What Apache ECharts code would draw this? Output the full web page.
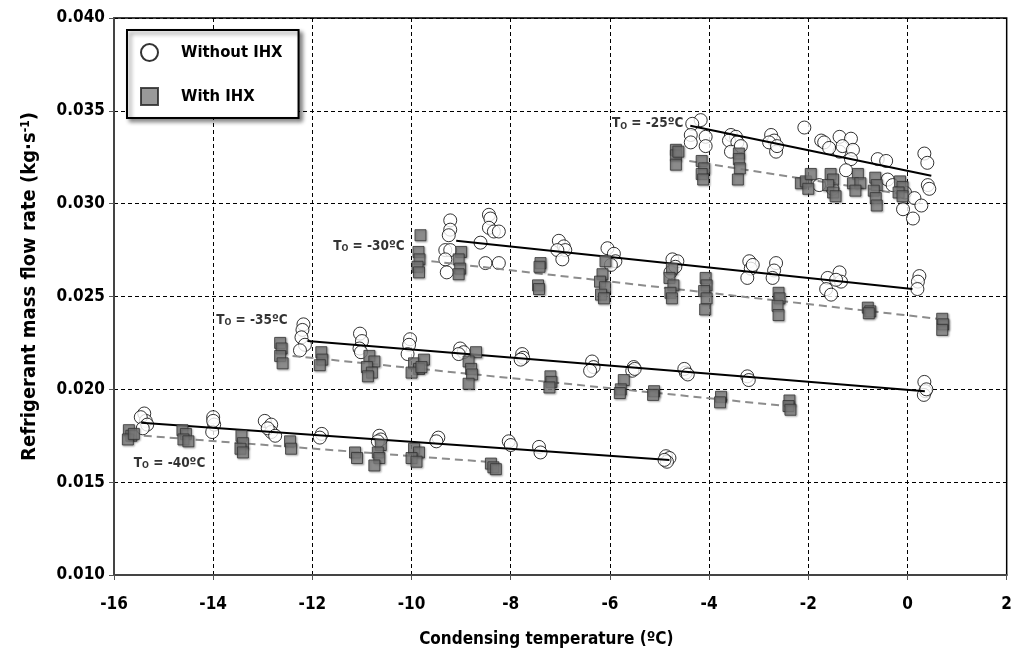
<!DOCTYPE html>
<html><head><meta charset="utf-8">
<script src="https://cdn.jsdelivr.net/npm/echarts@6.0.0/dist/echarts.min.js"></script>
<style>html,body{margin:0;padding:0;background:#fff}#c{width:1015px;height:659px}</style>
</head><body><div id="c"></div>
<script>
const FONT = '"Liberation Sans Narrow","Arial Narrow","DejaVu Sans Condensed","Liberation Sans",sans-serif';
const seriesNames = ['Without IHX', 'With IHX'];
const xTitle = 'Condensing temperature (ºC)';
const yTitle = 'Refrigerant mass flow rate (kg·s{sup|-1})';

// ---- To = -25 ºC ----
const without25 = [
[-4.17,0.0345],[-4.34,0.0343],[-4.37,0.0337],[-4.37,0.0333],[-4.07,0.0336],[-4.07,0.0331],
[-3.56,0.0337],[-3.46,0.0336],[-3.60,0.0334],[-3.43,0.0333],[-3.56,0.0328],[-3.36,0.0331],
[-2.75,0.0337],[-2.69,0.0334],[-2.79,0.0333],[-2.65,0.0328],[-2.63,0.0331],
[-2.08,0.0341],
[-1.74,0.0334],[-1.68,0.0333],[-1.37,0.0336],[-1.14,0.0335],[-1.37,0.0328],[-1.58,0.0330],[-1.31,0.0331],[-1.10,0.0329],[-1.14,0.0324],[-1.24,0.0318],[-1.78,0.0310],[-1.51,0.0308],
[-0.60,0.0324],[-0.43,0.0323],[-0.40,0.0313],[-0.30,0.0310],[-0.05,0.0306],
[0.14,0.0303],[0.28,0.0299],[0.11,0.0292],[-0.09,0.0297],
[0.34,0.0327],[0.40,0.0322],[0.41,0.0310],[0.44,0.0308]
];
const with25 = [
[-4.67,0.0329],[-4.67,0.0326],[-4.67,0.0321],[-4.62,0.0328],
[-4.15,0.0323],[-4.10,0.0319],[-4.15,0.0316],[-4.12,0.0313],
[-3.40,0.0327],[-3.40,0.0324],[-3.38,0.0319],[-3.42,0.0313],
[-2.15,0.0311],[-2.05,0.0312],[-1.95,0.0316],[-2.00,0.0308],
[-1.55,0.0316],[-1.50,0.0313],[-1.60,0.0310],[-1.50,0.0306],[-1.45,0.0304],
[-1.00,0.0316],[-1.10,0.0311],[-0.95,0.0311],[-1.05,0.0307],
[-0.65,0.0314],[-0.62,0.0310],[-0.68,0.0307],[-0.64,0.0303],[-0.62,0.0299],
[-0.15,0.0312],[-0.10,0.0309],[-0.18,0.0306],[-0.10,0.0304]
];
// ---- To = -30 ºC ----
const without30 = [
[-9.22,0.0291],[-9.22,0.0286],[-9.25,0.0283],[-9.32,0.0275],[-9.22,0.0275],[-9.32,0.0270],[-9.29,0.0263],
[-8.44,0.0294],[-8.41,0.0292],[-8.44,0.0287],[-8.34,0.0285],[-8.24,0.0285],[-8.61,0.0279],[-8.51,0.0268],[-8.24,0.0268],
[-7.03,0.0280],[-6.93,0.0277],[-6.90,0.0275],[-7.06,0.0275],[-6.96,0.0270],
[-6.05,0.0276],[-5.92,0.0273],[-5.89,0.0269],[-5.98,0.0267],
[-4.74,0.0270],[-4.64,0.0269],[-4.78,0.0263],[-4.68,0.0266],
[-3.19,0.0269],[-3.16,0.0265],[-3.23,0.0260],[-3.12,0.0267],
[-2.65,0.0268],[-2.69,0.0264],[-2.72,0.0260],
[-1.61,0.0260],[-1.37,0.0263],[-1.34,0.0258],[-1.64,0.0254],[-1.54,0.0251],[-1.44,0.0259],
[0.24,0.0261],[0.21,0.0258],[0.20,0.0254]
];
const with30 = [
[-9.82,0.0283],[-9.86,0.0274],[-9.84,0.0270],[-9.88,0.0266],[-9.85,0.0263],
[-9.00,0.0274],[-9.05,0.0270],[-9.02,0.0265],[-9.05,0.0262],
[-7.40,0.0268],[-7.42,0.0266],[-7.45,0.0256],[-7.43,0.0254],
[-6.09,0.0269],[-6.15,0.0262],[-6.20,0.0258],[-6.10,0.0255],[-6.18,0.0251],[-6.12,0.0249],
[-4.75,0.0265],[-4.80,0.0260],[-4.72,0.0256],[-4.78,0.0252],[-4.75,0.0249],
[-4.07,0.0260],[-4.05,0.0256],[-4.10,0.0253],[-4.05,0.0249],[-4.08,0.0243],
[-2.60,0.0252],[-2.58,0.0249],[-2.62,0.0245],[-2.60,0.0240],
[-0.80,0.0244],[-0.75,0.0242],[-0.78,0.0241],
[0.70,0.0238],[0.72,0.0235],[0.70,0.0232]
];
// ---- To = -35 ºC ----
const without35 = [
[-12.18,0.0235],[-12.20,0.0232],[-12.22,0.0228],[-12.15,0.0224],[-12.25,0.0221],
[-11.04,0.0230],[-11.00,0.0226],[-11.05,0.0222],[-11.02,0.0220],
[-10.03,0.0227],[-10.05,0.0224],[-10.08,0.0219],
[-9.02,0.0222],[-8.95,0.0220],[-9.05,0.0219],
[-7.77,0.0219],[-7.75,0.0217],[-7.80,0.0216],
[-6.36,0.0215],[-6.33,0.0212],[-6.40,0.0210],
[-5.52,0.0212],[-5.55,0.0210],[-5.50,0.0211],
[-4.47,0.0209],[-4.50,0.0211],[-4.43,0.0208],
[-3.23,0.0207],[-3.20,0.0205],
[0.34,0.0204],[0.36,0.0199],[0.33,0.0197],[0.38,0.0200]
];
const with35 = [
[-12.65,0.0225],[-12.62,0.0222],[-12.65,0.0218],[-12.60,0.0214],
[-11.82,0.0220],[-11.80,0.0216],[-11.85,0.0213],
[-10.85,0.0218],[-10.75,0.0215],[-10.90,0.0212],[-10.80,0.0209],[-10.88,0.0207],
[-9.95,0.0214],[-9.75,0.0216],[-9.85,0.0211],[-10.00,0.0209],[-9.80,0.0212],
[-8.70,0.0220],[-8.85,0.0215],[-8.80,0.0211],[-8.78,0.0208],[-8.85,0.0203],
[-7.20,0.0207],[-7.18,0.0204],[-7.22,0.0201],
[-5.72,0.0205],[-5.78,0.0200],[-5.80,0.0198],
[-5.11,0.0199],[-5.13,0.0197],
[-3.76,0.0196],[-3.78,0.0193],
[-2.38,0.0194],[-2.40,0.0191],[-2.36,0.0189]
];
// ---- To = -40 ºC ----
const without40 = [
[-15.39,0.0187],[-15.36,0.0183],[-15.46,0.0185],[-15.33,0.0181],[-15.42,0.0179],
[-14.00,0.0185],[-13.98,0.0181],[-14.02,0.0177],[-14.00,0.0183],
[-12.96,0.0183],[-12.83,0.0181],[-12.83,0.0177],[-12.90,0.0179],[-12.75,0.0175],
[-11.81,0.0176],[-11.85,0.0174],
[-10.65,0.0175],[-10.62,0.0173],[-10.68,0.0172],
[-9.46,0.0174],[-9.50,0.0172],
[-8.04,0.0172],[-8.00,0.0170],
[-7.43,0.0169],[-7.40,0.0166],
[-4.87,0.0164],[-4.80,0.0163],[-4.85,0.0161],[-4.90,0.0162]
];
const with40 = [
[-15.70,0.0178],[-15.65,0.0175],[-15.72,0.0173],[-15.60,0.0176],
[-14.62,0.0178],[-14.55,0.0176],[-14.60,0.0173],[-14.50,0.0172],
[-13.43,0.0175],[-13.40,0.0171],[-13.45,0.0168],[-13.40,0.0166],
[-12.45,0.0172],[-12.43,0.0168],
[-11.14,0.0166],[-11.10,0.0163],
[-10.62,0.0170],[-10.68,0.0166],[-10.65,0.0163],[-10.75,0.0159],
[-9.95,0.0168],[-9.85,0.0166],[-10.00,0.0163],[-9.90,0.0161],
[-8.40,0.0160],[-8.35,0.0158],[-8.30,0.0157]
];
// ---- fitted trend lines (end points) ----
const fitWithout25 = [[-4.38,0.0342],[0.48,0.0315]];
const fitWith25    = [[-4.40,0.0323],[-0.20,0.03055]];
const fitWithout30 = [[-9.10,0.0280],[0.10,0.0254]];
const fitWith30    = [[-9.60,0.0269],[0.60,0.0238]];
const fitWithout35 = [[-12.10,0.0226],[0.35,0.0199]];
const fitWith35    = [[-12.40,0.0218],[-2.45,0.0191]];
const fitWithout40 = [[-15.45,0.0182],[-4.80,0.0162]];
const fitWith40    = [[-15.40,0.0175],[-8.50,0.0161]];
// ---- annotation texts and anchors ----
const annoTexts = ['-25ºC', '-30ºC', '-35ºC', '-40ºC'];
const annoAnchors = [[-5.96,0.0343],[-11.58,0.0277],[-13.94,0.0237],[-15.60,0.0160]];

const chart = echarts.init(document.getElementById('c'), null, {renderer: 'canvas'});
const bold = {fontFamily: FONT, fontWeight: 'bold', color: '#000'};

const circleStyle = {color: '#ffffff', borderColor: '#000000', borderWidth: 1};
const squareStyle = {color: '#7f7f7f', borderColor: '#333333', borderWidth: 1,
  shadowColor: 'rgba(0,0,0,0.35)', shadowBlur: 2, shadowOffsetX: 1, shadowOffsetY: 1};

const solidFits = [fitWithout25, fitWithout30, fitWithout35, fitWithout40];
const dashFits = [fitWith25, fitWith30, fitWith35, fitWith40];

const series = [
  {name: seriesNames[0], type: 'scatter', symbol: 'circle', symbolSize: 13, z: 2,
   itemStyle: circleStyle, data: [].concat(without25, without30, without35, without40)},
  {name: seriesNames[1], type: 'scatter', symbol: 'rect', symbolSize: 11, z: 4,
   itemStyle: squareStyle, data: [].concat(with25, with30, with35, with40)}
];
solidFits.forEach(d => series.push({type: 'line', data: d, showSymbol: false, silent: true, z: 3,
  lineStyle: {color: '#000', width: 2, type: 'solid'}}));
dashFits.forEach(d => series.push({type: 'line', data: d, showSymbol: false, silent: true, z: 3,
  lineStyle: {color: '#8c8c8c', width: 2, type: [8, 5]}}));
series.push({type: 'scatter', symbolSize: 0, silent: true, z: 6,
  data: annoAnchors,
  label: {show: true, position: 'right', distance: 0,
    formatter: p => '{t|T}{s|O}{t| = ' + annoTexts[p.dataIndex] + '}',
    rich: {t: Object.assign({fontSize: 13.5}, bold), s: Object.assign({fontSize: 9, verticalAlign: 'bottom'}, bold)}}});

chart.setOption({
  animation: false,
  backgroundColor: '#fff',
  grid: {left: 114, right: 7, top: 18, bottom: 84, show: true, borderColor: '#000', borderWidth: 1.5, containLabel: false},
  legend: {
    data: [
      {name: seriesNames[0], icon: 'circle', itemStyle: {color: '#fff', borderColor: '#000', borderWidth: 2}},
      {name: seriesNames[1], icon: 'rect', itemStyle: {color: '#7f7f7f', borderColor: '#222', borderWidth: 2}}
    ],
    orient: 'vertical', left: 127, top: 30, itemWidth: 17, itemHeight: 17, itemGap: 25,
    padding: [13, 16, 12, 13],
    backgroundColor: '#fff', borderColor: '#000', borderWidth: 2,
    shadowColor: 'rgba(0,0,0,0.45)', shadowBlur: 4, shadowOffsetX: 3, shadowOffsetY: 3,
    textStyle: Object.assign({fontSize: 16.5, padding: [0, 0, 0, 18]}, bold)
  },
  xAxis: {
    type: 'value', min: -16, max: 2, interval: 2,
    name: xTitle, nameLocation: 'middle', nameGap: 56,
    nameTextStyle: Object.assign({fontSize: 17, padding: [0, 28, 0, 0]}, bold),
    axisLine: {show: true, onZero: false, lineStyle: {color: '#444', width: 2}},
    axisTick: {show: true, inside: false, length: 5, lineStyle: {color: '#555'}},
    axisLabel: Object.assign({fontSize: 17, margin: 21}, bold),
    splitLine: {show: true, lineStyle: {color: '#000', width: 1, type: [4, 3]}}
  },
  yAxis: {
    type: 'value', min: 0.010, max: 0.040, interval: 0.005,
    name: yTitle, nameLocation: 'middle', nameGap: 74,
    nameTextStyle: Object.assign({fontSize: 20, padding: [0, 0, 0, 20],
      rich: {sup: Object.assign({fontSize: 12, verticalAlign: 'top'}, bold)}}, bold),
    axisLine: {show: true, onZero: false, lineStyle: {color: '#444', width: 2}},
    axisTick: {show: true, inside: false, length: 5, lineStyle: {color: '#555'}},
    axisLabel: Object.assign({fontSize: 17, margin: 9, formatter: v => v.toFixed(3)}, bold),
    splitLine: {show: true, lineStyle: {color: '#000', width: 1, type: [4, 3]}}
  },
  series: series
});
</script></body></html>
